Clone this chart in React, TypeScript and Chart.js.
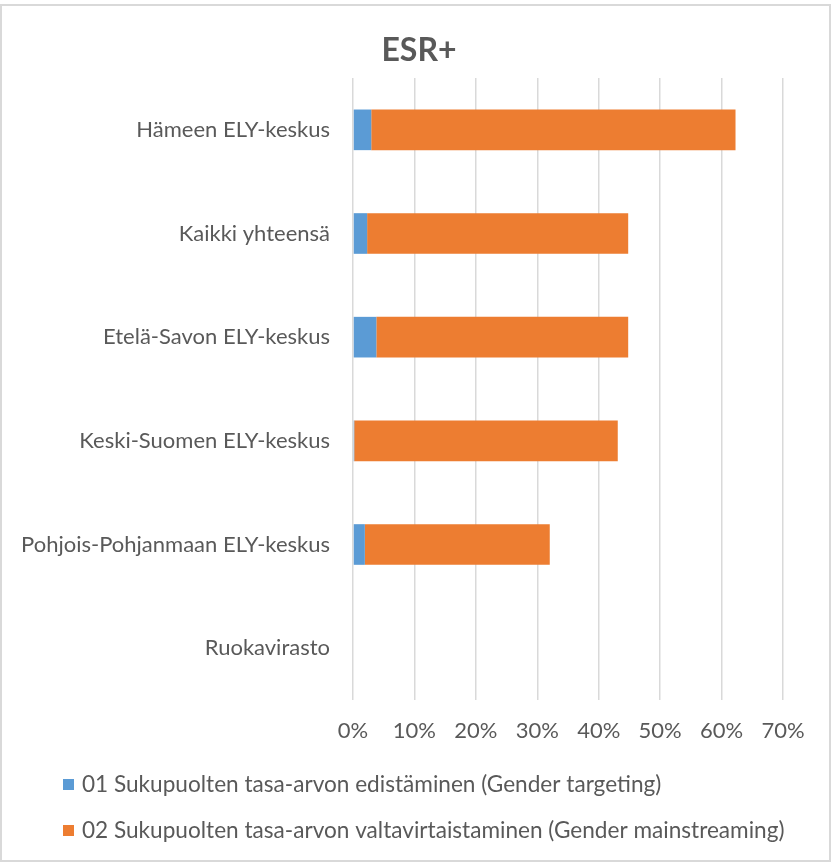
import React, { useEffect, useRef } from "react";
import { Chart, registerables } from "chart.js";

Chart.register(...registerables);

const categories = [
  "Hämeen ELY-keskus",
  "Kaikki yhteensä",
  "Etelä-Savon ELY-keskus",
  "Keski-Suomen ELY-keskus",
  "Pohjois-Pohjanmaan ELY-keskus",
  "Ruokavirasto",
];
const targetingValues = [2.97, 2.3, 3.8, 0.2, 1.93, 0];
const mainstreamingValues = [59.3, 42.5, 41.0, 42.9, 30.1, 0];
const seriesNames = [
  "01 Sukupuolten tasa-arvon edistäminen (Gender targeting)",
  "02 Sukupuolten tasa-arvon valtavirtaistaminen (Gender mainstreaming)",
];
const titleText = "ESR+";
const xMax = 70;
const xStep = 10;

const FONT = "Lato, 'Open Sans', sans-serif";
const TEXT = "#595959";
const BLUE = "#5B9BD5";
const ORANGE = "#ED7D31";

export default function App() {
  const ref = useRef<HTMLCanvasElement | null>(null);
  useEffect(() => {
    document.body.style.margin = "0";
    const canvas = ref.current!;
    const framePlugin = {
      id: "frame",
      beforeDraw(chart: any) {
        const ctx = chart.ctx;
        ctx.save();
        ctx.fillStyle = "#ffffff";
        ctx.fillRect(0, 0, chart.width, chart.height);
        ctx.strokeStyle = "#d9d9d9";
        ctx.lineWidth = 2;
        ctx.strokeRect(1, 5, chart.width - 3, chart.height - 8);
        ctx.restore();
      },
    };
    const textPlugin = {
      id: "customText",
      afterDraw(chart: any) {
        const ctx = chart.ctx;
        ctx.save();
        // title
        ctx.font = `bold 32px ${FONT}`;
        ctx.fillStyle = TEXT;
        ctx.textAlign = "center";
        ctx.textBaseline = "middle";
        ctx.fillText(titleText, 419, 51);
        // legend
        ctx.font = `22.6px ${FONT}`;
        ctx.textAlign = "left";
        chart.data.datasets.forEach((ds: any, i: number) => {
          const cy = 785 + i * 46;
          ctx.fillStyle = ds.backgroundColor;
          ctx.fillRect(63, cy - 6, 11, 11);
          ctx.fillStyle = TEXT;
          ctx.fillText(ds.label, 82, cy);
        });
        ctx.restore();
      },
    };
    const chart = new Chart(canvas, {
      type: "bar",
      data: {
        labels: categories,
        datasets: [
          {
            label: seriesNames[0],
            data: targetingValues,
            backgroundColor: BLUE,
            categoryPercentage: 0.8,
            barPercentage: 0.49,
          },
          {
            label: seriesNames[1],
            data: mainstreamingValues,
            backgroundColor: ORANGE,
            categoryPercentage: 0.8,
            barPercentage: 0.49,
          },
        ],
      },
      options: {
        indexAxis: "y",
        responsive: false,
        animation: false,
        layout: { padding: { left: 0, right: 49, top: 78, bottom: 0 } },
        plugins: {
          legend: { display: false },
          tooltip: { enabled: false },
          title: { display: false },
        },
        scales: {
          x: {
            stacked: true,
            min: 0,
            max: xMax,
            border: { display: false },
            grid: { color: "#d9d9d9", lineWidth: 1.5, drawTicks: false },
            ticks: {
              stepSize: xStep,
              color: TEXT,
              padding: 18,
              font: { family: FONT, size: 22 },
              callback: (v: any) => `${v}%`,
            },
            afterFit: (scale: any) => {
              scale.height = 164;
            },
          },
          y: {
            stacked: true,
            border: { display: false },
            grid: { display: false, drawTicks: false },
            ticks: {
              color: TEXT,
              padding: 23,
              font: { family: FONT, size: 22 },
            },
            afterFit: (scale: any) => {
              scale.width = 353;
            },
          },
        },
      },
      plugins: [framePlugin, textPlugin],
    });
    return () => chart.destroy();
  }, []);
  return <canvas ref={ref} width={832} height={864} style={{ display: "block" }} />;
}
